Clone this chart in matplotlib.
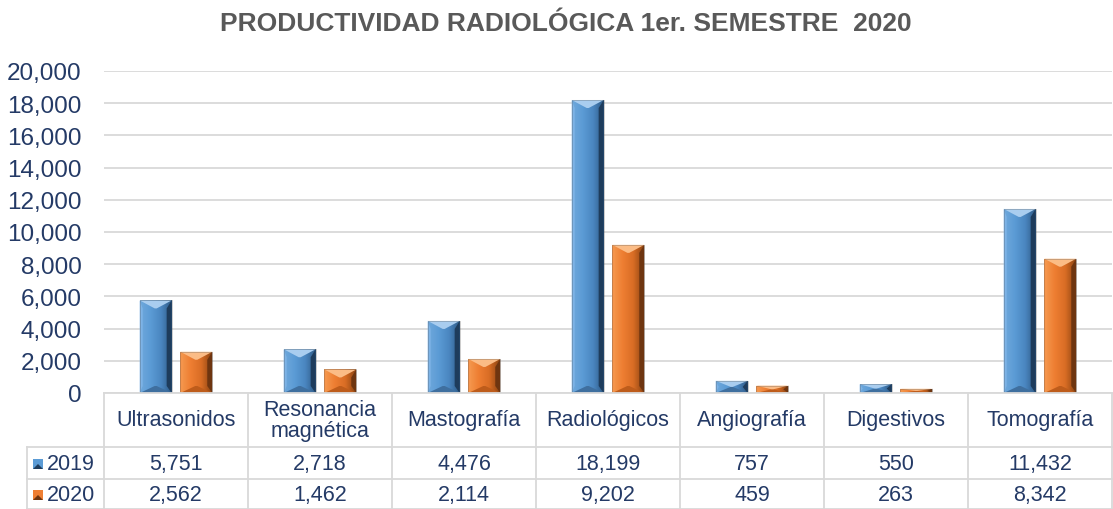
import numpy as np
import matplotlib
matplotlib.use('Agg')
import matplotlib.pyplot as plt
from matplotlib.patches import Polygon, Rectangle
from matplotlib.colors import LinearSegmentedColormap

# datos
categorias = ['Ultrasonidos', 'Resonancia\nmagnética', 'Mastografía', 'Radiológicos',
              'Angiografía', 'Digestivos', 'Tomografía']
v2019 = [5751, 2718, 4476, 18199, 757, 550, 11432]
v2020 = [2562, 1462, 2114, 9202, 459, 263, 8342]
series = ['2019', '2020']
titulo = 'PRODUCTIVIDAD RADIOLÓGICA 1er. SEMESTRE  2020'

plt.rcParams['font.family'] = ['Liberation Sans', 'DejaVu Sans']
W, H = 1113, 510
fig = plt.figure(figsize=(W / 100, H / 100), dpi=100)

# area del grafico en pixeles
x_izq, x_der, y_arr, y_ab = 104, 1112, 72, 394
ax = fig.add_axes([x_izq / W, 1 - y_ab / H, (x_der - x_izq) / W, (y_ab - y_arr) / H])

txt = '#243A66'
grid_c = '#D9D9D9'

# colores: cuerpo, claro, oscuro, base
estilos = {
    '2019': dict(cmap=['#6FA8DC', '#5B9BD5', '#4A86C0', '#2E5A86'], top='#A9CDEF',
                 left='#7DB3E6', right='#1E3C5C', bottom='#3F6F9F'),
    '2020': dict(cmap=['#F59A50', '#EE7E32', '#D96D25', '#8E4512'], top='#FBBC86',
                 left='#F5944B', right='#6E3510', bottom='#BE5C1B'),
}

x = np.arange(len(categorias))
ancho = 0.222
desp = 0.141
ax.set_xlim(-0.5, len(categorias) - 0.5)
ax.set_ylim(0, 20000)

b1 = ax.bar(x - desp, v2019, ancho, color='#5B9BD5', zorder=2)
b2 = ax.bar(x + desp, v2020, ancho, color='#ED7D31', zorder=2)

# conversion pixel -> datos
sx = (len(categorias)) / (x_der - x_izq)
sy = 20000 / (y_ab - y_arr)


def bisel(rect, st):
    x0, y0 = rect.get_x(), rect.get_y()
    w, h = rect.get_width(), rect.get_height()
    x1, y1 = x0 + w, y0 + h
    xc = x0 + w / 2
    # gradiente horizontal del cuerpo
    cm = LinearSegmentedColormap.from_list('g', st['cmap'])
    grad = np.linspace(0, 1, 64).reshape(1, -1)
    im = ax.imshow(grad, extent=[x0, x1, y0, y1], aspect='auto', cmap=cm,
                   zorder=2.1, interpolation='bilinear')
    im.set_clip_path(rect)
    bt = min(8 * sy, h / 2)
    bb = min(7 * sy, h / 2)
    bl = 3 * sx
    br = 5 * sx
    ax.add_patch(Polygon([(x0, y0), (x0, y1), (x0 + bl, y1 - bt), (x0 + bl, y0 + bb)],
                         closed=True, color=st['left'], lw=0, zorder=2.2))
    ax.add_patch(Polygon([(x1, y0), (x1, y1), (x1 - br, y1 - bt), (x1 - br, y0 + bb)],
                         closed=True, color=st['right'], lw=0, zorder=2.2))
    ax.add_patch(Polygon([(x0, y0), (x1, y0), (xc + 1 * sx, y0 + bb), (xc - 1 * sx, y0 + bb)],
                         closed=True, color=st['bottom'], lw=0, zorder=2.3))
    ax.add_patch(Polygon([(x0, y1), (x1, y1), (xc + 1 * sx, y1 - bt), (xc - 1 * sx, y1 - bt)],
                         closed=True, color=st['top'], lw=0, zorder=2.3))
    ax.add_patch(Rectangle((x0, y0), w, h, fill=False, ec='#4d4d4d', lw=0.4, alpha=0.5, zorder=2.4))


for r in b1:
    bisel(r, estilos['2019'])
for r in b2:
    bisel(r, estilos['2020'])

ax.set_yticks(np.arange(0, 20001, 2000))
ax.set_yticklabels([f'{v:,}' for v in range(0, 20001, 2000)])
ax.tick_params(axis='y', length=0, labelsize=17.5, labelcolor=txt, pad=16)
ax.set_xticks([])
ax.grid(axis='y', color=grid_c, lw=1.3, zorder=0)
for s in ['top', 'right', 'left']:
    ax.spines[s].set_visible(False)
ax.spines['bottom'].set_color(grid_c)
ax.spines['bottom'].set_linewidth(1.3)

fig.text(566 / W, 1 - 24 / H, titulo, ha='center', va='center', fontsize=19,
         fontweight='bold', color='#595959')

# tabla de datos
def fy(ypx):
    return 1 - ypx / H

lin = dict(color=grid_c, lw=1.3)
bordes = [x_izq + i * (x_der - x_izq) / len(categorias) for i in range(len(categorias) + 1)]
filas_y = [394, 448, 480, 510]
x_ley = 27
for bx in bordes:
    fig.add_artist(plt.Line2D([bx / W, bx / W], [fy(394), fy(510)], **lin))
fig.add_artist(plt.Line2D([x_ley / W, x_ley / W], [fy(448), fy(510)], **lin))
for yy in filas_y[1:]:
    fig.add_artist(plt.Line2D([x_ley / W, x_der / W], [fy(yy), fy(yy)], **lin))

for i, c in enumerate(categorias):
    cx = (bordes[i] + bordes[i + 1]) / 2
    fig.text(cx / W, fy(421), c, ha='center', va='center', fontsize=15.5,
             color=txt, linespacing=1.0)
    fig.text(cx / W, fy(465), f'{v2019[i]:,}', ha='center', va='center', fontsize=15.5, color=txt)
    fig.text(cx / W, fy(496), f'{v2020[i]:,}', ha='center', va='center', fontsize=15.5, color=txt)

for nombre, yy in zip(series, [465, 496]):
    st = estilos[nombre]
    fig.add_artist(Rectangle((33 / W, fy(yy + 5)), 10 / W, 10 / H,
                             color=st['cmap'][1], lw=0))
    fig.add_artist(Polygon([(33 / W, fy(yy + 5)), (43 / W, fy(yy + 5)), (38 / W, fy(yy))],
                           closed=True, color=st['right'], lw=0))
    fig.text(47 / W, fy(yy), nombre, ha='left', va='center', fontsize=15.5, color=txt)

fig.savefig('out.png', dpi=100)
